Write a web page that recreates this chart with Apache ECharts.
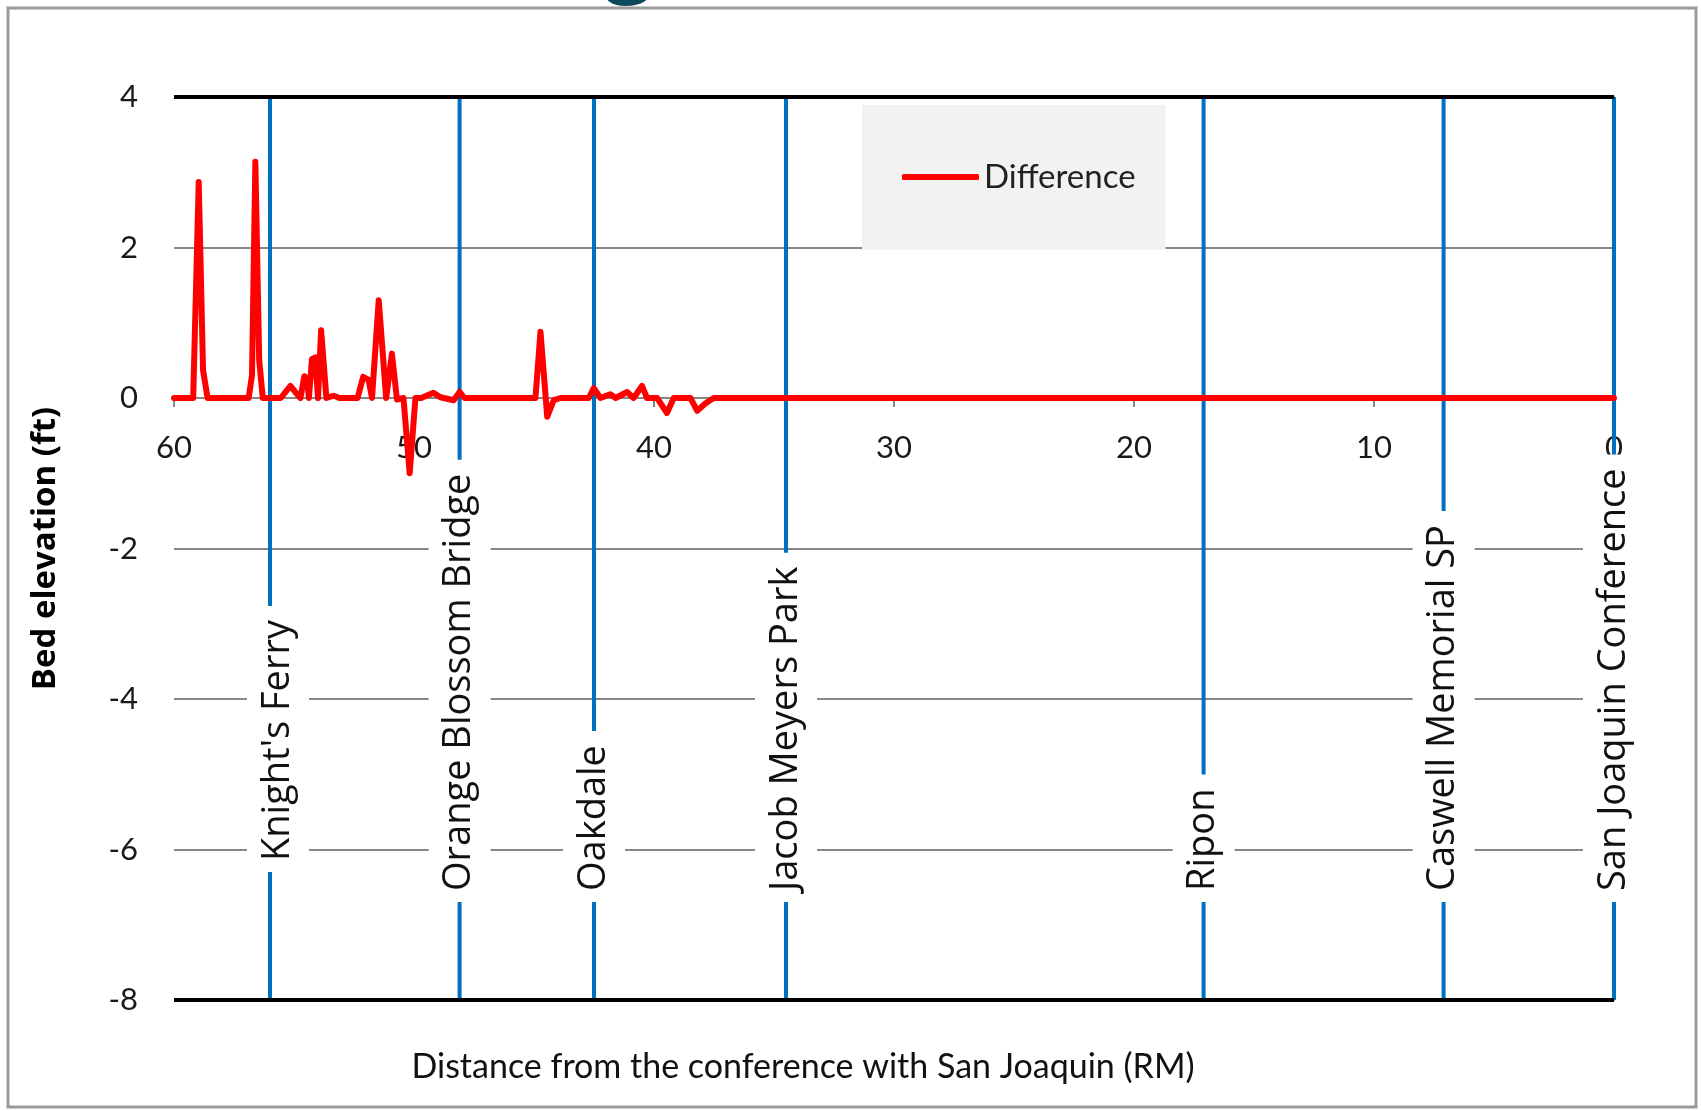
<!DOCTYPE html>
<html>
<head>
<meta charset="utf-8">
<script src="https://cdn.jsdelivr.net/npm/echarts@6/dist/echarts.min.js"></script>
<style>
html,body{margin:0;padding:0;background:#fff;}
#chart{width:1701px;height:1111px;}
</style>
</head>
<body>
<div id="chart"></div>
<script>
// River mile (distance from the confluence with San Joaquin)
const riverMile = [60.0, 59.2, 58.97, 58.79, 58.6, 56.89, 56.75, 56.61, 56.45, 56.3,
  55.55, 55.15, 54.95, 54.73, 54.57, 54.45, 54.38, 54.25, 54.11, 54.0,
  53.87, 53.65, 53.35, 53.1, 52.35, 52.12, 51.89, 51.75, 51.47, 51.16,
  50.92, 50.71, 50.44, 50.18, 49.94, 49.7, 49.19, 48.9, 48.35, 48.1,
  47.9, 44.94, 44.73, 44.45, 44.18, 43.9, 42.72, 42.51, 42.23, 41.82,
  41.6, 41.12, 40.85, 40.5, 40.29, 39.87, 39.46, 39.18, 38.48, 38.2,
  37.85, 37.51, 30.0, 20.0, 10.0, 0.0];
// Bed elevation difference (ft)
const difference = [0, 0, 2.87, 0.37, 0, 0, 0.3, 3.14, 0.5, 0,
  0, 0.16, 0.08, 0, 0.29, 0.25, 0, 0.52, 0.54, 0,
  0.90, 0, 0.03, 0, 0, 0.28, 0.24, 0, 1.30, 0,
  0.59, -0.02, 0, -1.0, 0, 0, 0.07, 0.01, -0.03, 0.08,
  0, 0, 0.88, -0.25, -0.03, 0, 0, 0.13, 0, 0.05,
  0, 0.08, 0, 0.16, 0, 0, -0.2, 0, 0, -0.17,
  -0.07, 0, 0, 0, 0, 0];
// Landmarks along the river
const landmarkNames = ["Knight's Ferry", "Orange Blossom Bridge", "Oakdale", "Jacob Meyers Park", "Ripon", "Caswell Memorial SP", "San Joaquin Conference"];
const landmarkRM = [56.0, 48.1, 42.5, 34.5, 17.1, 7.1, 0];
// Axis ticks
const xTicks = [60, 50, 40, 30, 20, 10, 0];
const yTicks = [4, 2, 0, -2, -4, -6, -8];

const chart = echarts.init(document.getElementById('chart'), null, {renderer: 'canvas'});
const grey = '#878787';
const gridTop = 97, gridBottom = 111, chartH = 1111;
const plotH = chartH - gridTop - gridBottom;
const yMax = yTicks[0], yMin = yTicks[yTicks.length - 1];
// shift the x axis (with its labels) up to the zero line
const zeroOffset = -plotH * (0 - yMin) / (yMax - yMin);

function renderLandmark(params, api) {
  const i = params.dataIndex;
  const xv = api.value(0);
  const top = api.coord([xv, yMax]);
  const bot = api.coord([xv, yMin]);
  const isFirst = i === 0;
  return {
    type: 'group',
    children: [
      {type: 'line', shape: {x1: top[0], y1: top[1], x2: bot[0], y2: bot[1]},
       style: {stroke: '#0070c0', lineWidth: 4}},
      {type: 'text', x: bot[0] + (isFirst ? 8 : 0), y: bot[1] - (isFirst ? 128 : 98),
       rotation: Math.PI / 2,
       style: {text: landmarkNames[i], font: '38px "Open Sans"', fill: '#111',
         align: 'left', verticalAlign: 'middle', backgroundColor: '#fff',
         padding: [12, 14, 12, 11], lineHeight: 38}}
    ]
  };
}

const option = {
  animation: false,
  backgroundColor: '#fff',
  grid: {left: 174, right: 87, top: gridTop, bottom: gridBottom, containLabel: false},
  legend: {
    left: 862, top: 105,
    backgroundColor: '#f2f2f2',
    padding: [52, 30, 53, 40],
    icon: 'roundRect',
    itemWidth: 77, itemHeight: 6, itemGap: 5,
    itemStyle: {color: '#ff0000'},
    textStyle: {fontFamily: 'Lato', fontSize: 33, color: '#222', lineHeight: 40},
    data: ['Difference']
  },
  xAxis: {
    type: 'value', inverse: true, min: xTicks[xTicks.length - 1], max: xTicks[0], interval: 10,
    position: 'bottom', offset: zeroOffset,
    axisLine: {show: true, onZero: false, lineStyle: {color: grey, width: 2}},
    axisTick: {show: true, inside: false, length: 9, lineStyle: {color: grey, width: 2}},
    axisLabel: {margin: 34, fontFamily: 'Lato', fontSize: 31, color: '#1a1a1a'},
    splitLine: {show: false}
  },
  yAxis: {
    type: 'value', min: yMin, max: yMax, interval: 2,
    name: 'Bed elevation (ft)', nameLocation: 'middle', nameGap: 112,
    nameTextStyle: {fontFamily: 'Open Sans', fontWeight: 'bold', fontSize: 33, color: '#000'},
    axisLine: {show: true, lineStyle: {color: grey, width: 2}},
    axisTick: {show: true, inside: false, length: 10, lineStyle: {color: grey, width: 2}},
    axisLabel: {margin: 36, fontFamily: 'Lato', fontSize: 31, color: '#1a1a1a'},
    splitLine: {show: true, lineStyle: {color: grey, width: 2}}
  },
  graphic: [
    {type: 'rect', shape: {x: 8, y: 8, width: 1688, height: 1099},
     style: {fill: null, stroke: '#9a9a9a', lineWidth: 3}, z: 100},
    {type: 'text', x: 629, y: -38,
     style: {text: 'g', font: 'bold 84px "Open Sans"', fill: '#0e4a5d', align: 'center', verticalAlign: 'middle'}},
    {type: 'text', x: 803, y: 1067,
     style: {text: 'Distance from the conference with San Joaquin (RM)', font: '34px Lato',
       fill: '#111', align: 'center', verticalAlign: 'middle'}}
  ],
  series: [
    {
      type: 'custom', name: 'Landmarks', renderItem: renderLandmark,
      data: landmarkRM.map(r => [r, yMin]),
      encode: {x: 0, y: 1}, clip: false, silent: true, z: 2
    },
    {
      type: 'line', name: 'Difference',
      data: riverMile.map((r, i) => [r, difference[i]]),
      symbol: 'none', showSymbol: false,
      lineStyle: {color: '#ff0000', width: 6, join: 'round', cap: 'round'},
      itemStyle: {color: '#ff0000'},
      z: 3,
      markLine: {
        silent: true, symbol: 'none', label: {show: false},
        lineStyle: {color: '#000', width: 4, type: 'solid'},
        data: [{yAxis: yMax}, {yAxis: yMin}]
      }
    }
  ]
};
chart.setOption(option);
</script>
</body>
</html>
